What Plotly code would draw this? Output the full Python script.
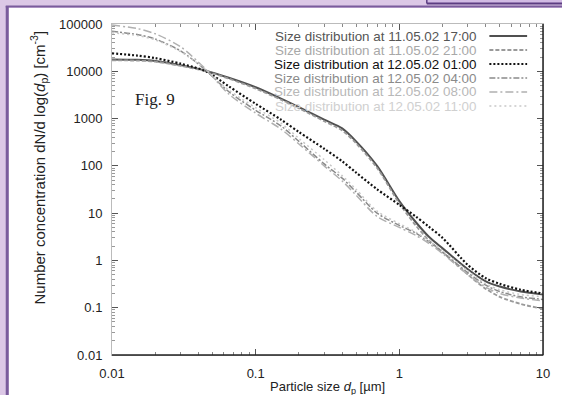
import plotly.graph_objects as go

# ---------------- data ----------------
diam = [0.01, 0.015, 0.02, 0.03, 0.045, 0.065, 0.1, 0.15, 0.2, 0.3, 0.4, 0.5,
        0.7, 1.0, 1.3, 1.6, 2.0, 3.0, 4.0, 5.0, 7.0, 10.0]

series_names = [
    "Size distribution at 11.05.02 17:00",
    "Size distribution at 11.05.02 21:00",
    "Size distribution at 12.05.02 01:00",
    "Size distribution at 12.05.02 04:00",
    "Size distribution at 12.05.02 08:00",
    "Size distribution at 12.05.02 11:00",
]

n_1105_1700 = [17800, 17500, 16500, 13500, 10300, 7300, 4600, 2650, 1750, 950, 620, 330,
               100, 18, 6.5, 3.2, 1.8, 0.65, 0.36, 0.28, 0.22, 0.19]
n_1105_2100 = [17000, 16800, 16000, 13000, 10000, 7000, 4300, 2500, 1650, 880, 560, 300,
               90, 16, 5.5, 2.7, 1.5, 0.5, 0.25, 0.17, 0.12, 0.095]
n_1205_0100 = [24000, 21500, 19000, 14500, 10000, 4800, 2050, 950, 520, 230, 125, 72,
               32, 15, 8.5, 5.2, 3.0, 0.8, 0.42, 0.32, 0.24, 0.2]
n_1205_0400 = [70000, 60000, 48000, 27000, 10500, 3700, 1500, 700, 330, 110, 55, 28,
               10, 5.5, 3.8, 2.5, 1.5, 0.55, 0.3, 0.22, 0.17, 0.15]
n_1205_0800 = [95000, 80000, 62000, 33000, 11000, 3300, 1300, 600, 290, 100, 48, 24,
               8.5, 5.0, 3.4, 2.3, 1.4, 0.5, 0.27, 0.2, 0.16, 0.14]
n_1205_1100 = [65000, 57000, 46000, 26000, 10800, 4000, 1700, 800, 380, 135, 62, 32,
               11, 6.0, 4.0, 2.6, 1.6, 0.6, 0.32, 0.24, 0.19, 0.17]

x_ticks = [0.01, 0.1, 1, 10]
x_tick_labels = ["0.01", "0.1", "1", "10"]
y_ticks = [0.01, 0.1, 1, 10, 100, 1000, 10000, 100000]
y_tick_labels = ["0.01", "0.1", "1", "10", "100", "1000", "10000", "100000"]

# ---------------- styles ----------------
values = [n_1105_1700, n_1105_2100, n_1205_0100, n_1205_0400, n_1205_0800, n_1205_1100]
line_colors = ["#505050", "#9a9a9a", "#111111", "#8a8a8a", "#b0b0b0", "#c8c8c8"]
text_colors = ["#555555", "#a8a8a8", "#111111", "#8a8a8a", "#b8b8b8", "#d0d0d0"]
dashes = ["solid", "4px,2px", "2px,2px", "6px,2px,2px,2px", "8px,3px,2px,3px", "2px,3px"]
widths = [2.0, 1.8, 2.2, 1.5, 1.5, 1.5]

fig = go.Figure()
for name, vals, lc, ds, w in zip(series_names, values, line_colors, dashes, widths):
    fig.add_trace(go.Scatter(x=diam, y=vals, mode="lines", name=name,
                             line=dict(color=lc, dash=ds, width=w, shape="spline", smoothing=0.8),
                             showlegend=False))

# geometry helpers (plot area: x 112..546, y 24..355 in a 562x395 page)
L, R, T, B = 112, 16, 24, 40
W, H = 562 - L - R, 395 - T - B
def px(x):
    return (x - L) / W
def py(y):
    return (395 - B - y) / H

minor_vals = [m * 10 ** e for e in range(-3, 6) for m in range(2, 10)]

fig.update_layout(
    width=562, height=395,
    margin=dict(l=L, r=R, t=T, b=B),
    paper_bgcolor="#dcc8e6",
    plot_bgcolor="#ffffff",
    font=dict(family="Liberation Sans, Arial, sans-serif", color="#222222"),
    xaxis=dict(type="log", range=[-2, 1], tickmode="array", tickvals=x_ticks,
               ticktext=x_tick_labels, ticks="inside", ticklen=6, tickcolor="#555",
               showline=True, linecolor="#bbbbbb", mirror="ticks", showgrid=False,
               zeroline=False, tickfont=dict(size=13, color="#222"), ticklabelstandoff=6,
               minor=dict(tickmode="array", tickvals=minor_vals, ticks="inside",
                          ticklen=3, tickcolor="#888", showgrid=False)),
    yaxis=dict(type="log", range=[-2, 5], tickmode="array", tickvals=y_ticks,
               ticktext=y_tick_labels, ticks="inside", ticklen=6, tickcolor="#555",
               showline=True, linecolor="#bbbbbb", mirror="ticks", showgrid=False,
               zeroline=False, tickfont=dict(size=13, color="#222"), ticklabelstandoff=6,
               minor=dict(tickmode="array", tickvals=minor_vals, ticks="inside",
                          ticklen=3, tickcolor="#999", showgrid=False)),
    showlegend=False,
)

shapes = [
    # white panel
    dict(type="rect", xref="paper", yref="paper", x0=px(8), x1=px(570), y0=py(8), y1=py(400),
         fillcolor="#ffffff", line=dict(width=0), layer="below"),
    # purple frame edges
    dict(type="line", xref="paper", yref="paper", x0=px(6.5), x1=px(6.5), y0=py(6), y1=py(400),
         line=dict(color="#7a5c9c", width=3), layer="below"),
    dict(type="line", xref="paper", yref="paper", x0=px(5), x1=px(570), y0=py(6.5), y1=py(6.5),
         line=dict(color="#7a5c9c", width=2), layer="below"),
    # top-right tab
    dict(type="rect", xref="paper", yref="paper", x0=px(429), x1=px(570), y0=py(4), y1=py(-5),
         fillcolor="#d2bbe4", line=dict(width=0), layer="below"),
    dict(type="line", xref="paper", yref="paper", x0=px(429), x1=px(570), y0=py(3.5), y1=py(3.5),
         line=dict(color="#5c3d82", width=2), layer="below"),
    dict(type="line", xref="paper", yref="paper", x0=px(429), x1=px(429), y0=py(3.5), y1=py(-5),
         line=dict(color="#5c3d82", width=1.5), layer="below"),
    # dark bottom and right axis lines
    dict(type="line", xref="paper", yref="paper", x0=0, x1=1, y0=0, y1=0,
         line=dict(color="#222222", width=1.5)),
    dict(type="line", xref="paper", yref="paper", x0=1, x1=1, y0=0, y1=1,
         line=dict(color="#222222", width=1.5)),
]

annotations = [
    dict(text="Number concentration dN/d log(<i>d</i><sub>p</sub>) [cm<sup>-3</sup>]",
         xref="paper", yref="paper", x=px(38), y=py(168), textangle=-90,
         showarrow=False, font=dict(size=15, color="#222"), xanchor="center", yanchor="middle"),
    dict(text="Particle size <i>d</i><sub>p</sub> [µm]", xref="paper", yref="paper",
         x=0.5, y=py(387), showarrow=False, font=dict(size=13, color="#222"),
         xanchor="center", yanchor="middle"),
    dict(text="Fig. 9", xref="paper", yref="paper", x=px(133), y=py(99), showarrow=False,
         font=dict(size=17, color="#222", family="Liberation Serif, Times New Roman, serif"),
         xanchor="left", yanchor="middle"),
]

row_y = [36, 50, 64, 78, 92, 106]
for name, tc, lc, ds, w, ry in zip(series_names, text_colors, line_colors, dashes, widths, row_y):
    annotations.append(dict(text=name, xref="paper", yref="paper", x=px(482), y=py(ry),
                            xanchor="right", yanchor="middle", showarrow=False,
                            font=dict(size=13.4, color=tc)))
    shapes.append(dict(type="line", xref="paper", yref="paper", x0=px(492), x1=px(530),
                       y0=py(ry), y1=py(ry), line=dict(color=lc, dash=ds, width=w)))

fig.update_layout(shapes=shapes, annotations=annotations)
fig.write_html("out.html", config={"displayModeBar": False},
               post_script="document.body.style.margin='0';document.body.style.padding='0';")
